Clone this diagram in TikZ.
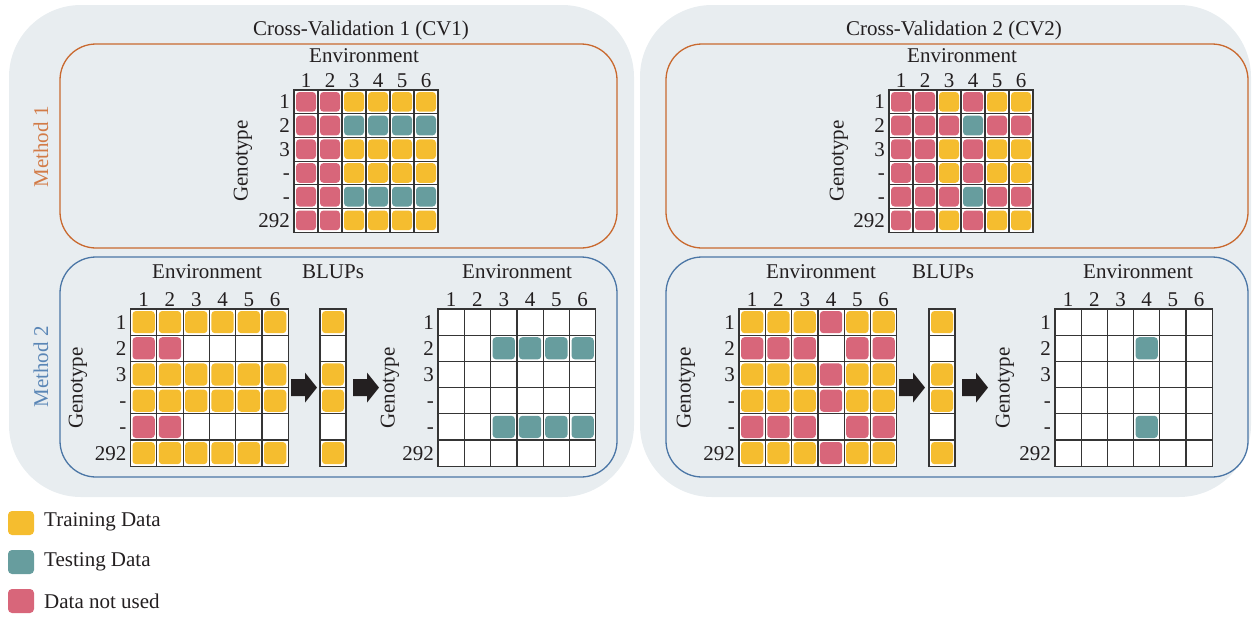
\documentclass[tikz,border=0pt]{standalone}
\usepackage{fontspec}
\setmainfont{Liberation Serif}
\definecolor{ink}{HTML}{231F20}
\definecolor{gridc}{HTML}{353535}
\definecolor{panelc}{HTML}{E8EDF0}
\definecolor{orangec}{HTML}{C9692F}
\definecolor{bluec}{HTML}{4B76A6}
\definecolor{m1text}{HTML}{D27B47}
\definecolor{m2text}{HTML}{5A86B6}
\definecolor{cY}{HTML}{F5BD2F}
\definecolor{cT}{HTML}{679D9E}
\definecolor{cP}{HTML}{D8667A}
\colorlet{cW}{white}
\tikzset{
  txt/.style={font=\fontsize{21}{25}\selectfont, text=ink, inner sep=0pt},
  num/.style={txt},
  gridline/.style={draw=gridc, line width=1.2pt},
  gridframe/.style={rectangle, fill=white, inner sep=0pt, outer sep=0pt},
  panel/.style={fill=panelc, rounded corners=72pt},
  m1box/.style={draw=orangec, line width=1.3pt, rounded corners=36pt},
  m2box/.style={draw=bluec, line width=1.3pt, rounded corners=36pt},
  arrowfill/.style={fill=ink},
}
% #1 name, #2 left x, #3 top y, #4 cell width, #5 cell height, #6 columns, #7 rows of cell colours
\newcommand\heatgrid[7]{%
  \node[gridframe, minimum width={#6*#4*1pt}, minimum height={6*#5*1pt}] (#1) at ({#2+#6*#4/2},{#3+3*#5}) {};
  \foreach \rowcells [count=\r] in {#7} {
    \foreach \cc [count=\k] in \rowcells {
      \fill[c\cc, rounded corners=3.5pt] ({#2+(\k-1)*#4+2},{#3+(\r-1)*#5+2}) rectangle ({#2+\k*#4-2},{#3+\r*#5-2});
    }
  }
  \foreach \r in {1,...,5} \draw[gridline] (#2,{#3+\r*#5}) -- ({#2+#6*#4},{#3+\r*#5});
  \ifnum#6>1 \foreach \k in {1,...,5} \draw[gridline] ({#2+\k*#4},#3) -- ({#2+\k*#4},{#3+6*#5}); \fi
  \draw[gridline] (#1.north west) rectangle (#1.south east);
}
% column numbers above a six-column grid (baseline set so digits centre 9.5 above the grid)
\newcommand\colnums[4]{% #1 name, #2 left x, #3 top y, #4 cell width
  \foreach \k in {1,...,6} \node[num, anchor=base] (#1-c\k) at ({#2+(\k-0.5)*#4},{#3-2.5}) {\k};
}
% genotype labels to the left of a grid
\newcommand\rownums[4]{% #1 name, #2 right x, #3 top y, #4 cell height
  \foreach \lab [count=\r] in {1,2,3,-,-,292} \node[num, anchor=base east] (#1-r\r) at (#2,{#3+(\r-0.5)*#4+7}) {\lab};
}
% solid block arrow pointing right, tail at #2
\newcommand\blockarrow[2]{%
  \coordinate (#1) at (#2);
  \fill[arrowfill] (#1) ++(0,-8.5) -- ++(14,0) -- ++(0,-6.5) -- ++(12,15) -- ++(-12,15) -- ++(0,-6.5) -- ++(-14,0) -- cycle;
}
\begin{document}
\begin{tikzpicture}[x=1pt, y=-1pt]
\useasboundingbox (0,0) rectangle (1253,616);

% two background panels
\fill[panel] (9,5) rectangle (634,497);
\fill[panel] (640,5) rectangle (1251,497);
\node[txt] (cv1) at (361,30) {Cross-Validation 1 (CV1)};
\node[txt] (cv2) at (954,30) {Cross-Validation 2 (CV2)};

% method frames
\draw[m1box] (60,44) rectangle (617,248);
\draw[m2box] (60,257) rectangle (617,477);
\draw[m1box] (666,44) rectangle (1248,248);
\draw[m2box] (666,257) rectangle (1248,477);
\node[txt, text=m1text, rotate=90] (meth1) at (41,147) {Method 1};
\node[txt, text=m2text, rotate=90] (meth2) at (41,367) {Method 2};

% ---------- CV1, method 1 ----------
\node[txt] (e11) at (364,56) {Environment};
\colnums{g11}{294}{90}{24}
\rownums{g11}{290}{90}{23.7}
\node[txt, rotate=90] (gt11) at (243,161) {Genotype};
\heatgrid{g11}{294}{90}{24}{23.7}{6}{{P,P,Y,Y,Y,Y},{P,P,T,T,T,T},{P,P,Y,Y,Y,Y},{P,P,Y,Y,Y,Y},{P,P,T,T,T,T},{P,P,Y,Y,Y,Y}}

% ---------- CV1, method 2 ----------
\node[txt] (e12) at (207,272) {Environment};
\node[txt] (b12) at (333,272) {BLUPs};
\node[txt] (e12r) at (517,272) {Environment};
\colnums{g12}{130.5}{309}{26.3}
\rownums{g12}{126.5}{309}{26.2}
\node[txt, rotate=90] (gt12) at (78,388) {Genotype};
\heatgrid{g12}{130.5}{309}{26.3}{26.2}{6}{{Y,Y,Y,Y,Y,Y},{P,P,W,W,W,W},{Y,Y,Y,Y,Y,Y},{Y,Y,Y,Y,Y,Y},{P,P,W,W,W,W},{Y,Y,Y,Y,Y,Y}}
\heatgrid{bl12}{320}{309}{26}{26.2}{1}{{Y},{W},{Y},{Y},{W},{Y}}
\colnums{h12}{438}{309}{26.3}
\rownums{h12}{434}{309}{26.2}
\node[txt, rotate=90] (gt12r) at (390,388) {Genotype};
\heatgrid{h12}{438}{309}{26.3}{26.2}{6}{{W,W,W,W,W,W},{W,W,T,T,T,T},{W,W,W,W,W,W},{W,W,W,W,W,W},{W,W,T,T,T,T},{W,W,W,W,W,W}}
\blockarrow{a12}{[xshift=2.7pt]g12.east}
\blockarrow{b12a}{[xshift=7pt]bl12.east}

% ---------- CV2, method 1 ----------
\node[txt] (e21) at (962,56) {Environment};
\colnums{g21}{889}{90}{24}
\rownums{g21}{885}{90}{23.7}
\node[txt, rotate=90] (gt21) at (839,161) {Genotype};
\heatgrid{g21}{889}{90}{24}{23.7}{6}{{P,P,Y,P,Y,Y},{P,P,P,T,P,P},{P,P,Y,P,Y,Y},{P,P,Y,P,Y,Y},{P,P,P,T,P,P},{P,P,Y,P,Y,Y}}

% ---------- CV2, method 2 ----------
\node[txt] (e22) at (821,272) {Environment};
\node[txt] (b22) at (943,272) {BLUPs};
\node[txt] (e22r) at (1138,272) {Environment};
\colnums{g22}{739}{309}{26.3}
\rownums{g22}{735}{309}{26.2}
\node[txt, rotate=90] (gt22) at (686,388) {Genotype};
\heatgrid{g22}{739}{309}{26.3}{26.2}{6}{{Y,Y,Y,P,Y,Y},{P,P,P,W,P,P},{Y,Y,Y,P,Y,Y},{Y,Y,Y,P,Y,Y},{P,P,P,W,P,P},{Y,Y,Y,P,Y,Y}}
\heatgrid{bl22}{929}{309}{26}{26.2}{1}{{Y},{W},{Y},{Y},{W},{Y}}
\colnums{h22}{1055}{309}{26.2}
\rownums{h22}{1051}{309}{26.2}
\node[txt, rotate=90] (gt22r) at (1005,388) {Genotype};
\heatgrid{h22}{1055}{309}{26.2}{26.2}{6}{{W,W,W,W,W,W},{W,W,W,T,W,W},{W,W,W,W,W,W},{W,W,W,W,W,W},{W,W,W,T,W,W},{W,W,W,W,W,W}}
\blockarrow{a22}{[xshift=2.2pt]g22.east}
\blockarrow{b22a}{[xshift=7pt]bl22.east}

% ---------- legend ----------
\fill[cY, rounded corners=4pt] (8,511) rectangle (34,535);
\fill[cT, rounded corners=4pt] (8,550) rectangle (34,574);
\fill[cP, rounded corners=4pt] (8,589) rectangle (34,613);
\node[txt, anchor=west] (lg1) at (44,522) {Training Data};
\node[txt, anchor=west] (lg2) at (44,562) {Testing Data};
\node[txt, anchor=west] (lg3) at (44,601) {Data not used};
\end{tikzpicture}
\end{document}
